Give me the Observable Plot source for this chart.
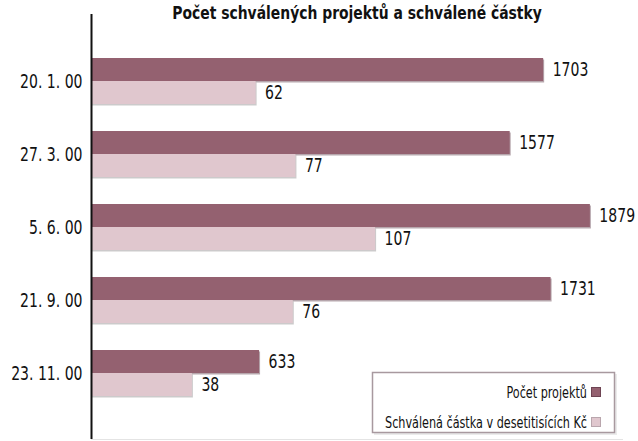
<!DOCTYPE html>
<html>
<head>
<meta charset="utf-8">
<script src="https://cdn.jsdelivr.net/npm/d3@7"></script>
<script src="https://cdn.jsdelivr.net/npm/@observablehq/plot@0.6"></script>
<style>
  html, body { margin: 0; padding: 0; background: #fff; }
  #chart { width: 638px; height: 441px; overflow: hidden; }
</style>
</head>
<body>
<div id="chart"></div>
<script>
const titleText = "Počet schválených projektů a schválené částky";
const dates = ["20. 1. 00", "27. 3. 00", "5. 6. 00", "21. 9. 00", "23. 11. 00"];
const projects = [1703, 1577, 1879, 1731, 633];
const amounts = [62, 77, 107, 76, 38];
const seriesNames = ["Počet projektů", "Schválená částka v desetitisících Kč"];
const seriesColors = ["#946170", "#e0c7ce"];

const rows = dates.map((d, i) => ({date: d, projects: projects[i], amount: amounts[i], amountScaled: amounts[i] * 10}));

const FONT = "'DejaVu Sans Condensed','Liberation Sans Narrow',sans-serif";
const step = 73.5, pad = 0.374;
const bw = step * (1 - pad);
const half = bw / 2;
const yStart = 80 - step * (1 + pad) / 2;
const yEnd = yStart + step * (dates.length + pad);

const plot = Plot.plot({
  width: 638,
  height: 441,
  marginLeft: 91,
  marginRight: 16,
  marginTop: 14,
  marginBottom: 2,
  style: {fontFamily: FONT, fontSize: "20px", color: "#111", background: "#fff"},
  x: {domain: [0, 2000], axis: null},
  y: {domain: dates, range: [yStart, yEnd], padding: pad, label: null},
  marks: [
    Plot.frame({anchor: "bottom", stroke: "#e4e4e4"}),
    Plot.barX(rows, {x: "projects", y: "date", insetBottom: half, fill: "#5e3a46", fillOpacity: 0.45, dx: 1, dy: 1.5}),
    Plot.barX(rows, {x: "amountScaled", y: "date", insetTop: half, fill: "#8f8a8c", fillOpacity: 0.45, dx: 1, dy: 1.5}),
    Plot.barX(rows, {x: "projects", y: "date", insetBottom: half, fill: seriesColors[0]}),
    Plot.barX(rows, {x: "amountScaled", y: "date", insetTop: half, fill: seriesColors[1]}),
    Plot.text(rows, {x: "projects", y: "date", text: d => String(d.projects), dx: 9, dy: -half / 2, textAnchor: "start", fill: "#111", fontSize: 20}),
    Plot.text(rows, {x: "amountScaled", y: "date", text: d => String(d.amount), dx: 9, dy: half / 2, textAnchor: "start", fill: "#111", fontSize: 20}),
    Plot.ruleX([0], {stroke: "#111", strokeWidth: 2}),
    Plot.axisY({tickSize: 0, tickPadding: 9, label: null, fontSize: 20}),
    Plot.text([titleText], {frameAnchor: "top", lineAnchor: "bottom", dy: 4, fontWeight: "bold", fontSize: 18, fill: "#111"})
  ]
});

document.getElementById("chart").appendChild(plot);

// Legend box
const svg = d3.select(plot);
const lg = svg.append("g").attr("font-family", FONT).attr("font-size", 16);
lg.append("rect").attr("x", 374).attr("y", 374).attr("width", 243).attr("height", 61).attr("fill", "#ddd").attr("opacity", 0.6);
lg.append("rect").attr("x", 372.5).attr("y", 372.5).attr("width", 242).attr("height", 60).attr("fill", "#fff").attr("stroke", "#a8999f").attr("stroke-width", 1.5);
seriesNames.forEach((name, i) => {
  const cy = 392 + i * 30;
  lg.append("text").attr("x", 587).attr("y", cy).attr("dy", "0.35em").attr("text-anchor", "end").attr("fill", "#111").text(name);
  lg.append("rect").attr("x", 591.5).attr("y", cy - 4.5).attr("width", 9).attr("height", 9)
    .attr("fill", seriesColors[i]).attr("stroke", i === 0 ? "#6e4453" : "#b9a6ad").attr("stroke-width", 1);
});

// Condense every text horizontally about its anchor point (narrow typeface of the reference)
Array.from(plot.querySelectorAll("text")).forEach(el => {
  const cs = getComputedStyle(el);
  const bold = cs.fontWeight === "bold" || +cs.fontWeight >= 600;
  const f = bold ? 0.86 : 0.78;
  const bb = el.getBBox();
  const anchor = el.getAttribute("text-anchor") || cs.textAnchor || "start";
  let ax = anchor === "end" ? bb.x + bb.width : anchor === "middle" ? bb.x + bb.width / 2 : bb.x;
  const ay = bb.y + bb.height / 2;
  const list = el.transform && el.transform.baseVal;
  if (list && list.numberOfItems > 0) {
    const m = list.consolidate().matrix;
    ax = m.a * ax + m.c * ay + m.e;
  }
  const g = document.createElementNS("http://www.w3.org/2000/svg", "g");
  g.setAttribute("transform", `translate(${ax},0) scale(${f},1) translate(${-ax},0)`);
  el.parentNode.insertBefore(g, el);
  g.appendChild(el);
});
</script>
</body>
</html>
